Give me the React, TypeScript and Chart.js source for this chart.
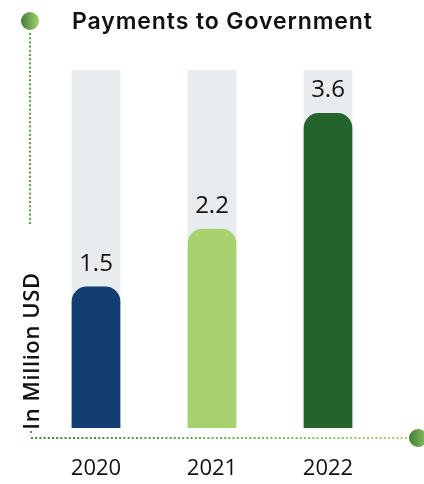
import React, { useEffect, useRef } from "react";
import { Chart, registerables } from "chart.js";

Chart.register(...registerables);

const categories = ["2020", "2021", "2022"];
const values = [1.5, 2.2, 3.6];
const trackValues = [4.12, 4.12, 4.12];
const barColors = ["#123d70", "#a5d26e", "#25632d"];
const titleText = "Payments to Government";
const yTitleText = "In Million USD";
const axisMin = -0.21;
const axisMax = 4.12;

const decorPlugin = {
  id: "decor",
  afterDraw(chart: any) {
    const ctx = chart.ctx as any;
    ctx.save();
    // title
    ctx.fillStyle = "#111111";
    ctx.font = "600 23px Inter, 'Open Sans', sans-serif";
    ctx.letterSpacing = "0px";
    ctx.textBaseline = "alphabetic";
    ctx.textAlign = "left";
    const w = ctx.measureText(titleText).width;
    const target = 300;
    const extra = (target - w) / (titleText.length - 1);
    ctx.letterSpacing = `${Math.max(-1, Math.min(1.5, extra)).toFixed(2)}px`;
    ctx.fillText(titleText, 72, 29);
    ctx.letterSpacing = "0px";

    // top-left circle
    let g = ctx.createLinearGradient(21, 0, 39, 0);
    g.addColorStop(0, "#3f7f37");
    g.addColorStop(1, "#a8d072");
    ctx.fillStyle = g;
    ctx.beginPath();
    ctx.arc(30, 21, 9, 0, Math.PI * 2);
    ctx.fill();

    // vertical dotted line
    ctx.fillStyle = "#5a9a4a";
    for (let y = 33; y <= 225; y += 4.2) {
      ctx.fillRect(29, y, 2, 2);
    }
    ctx.fillRect(30, 431, 2, 2);

    // horizontal dotted line
    g = ctx.createLinearGradient(30, 0, 410, 0);
    g.addColorStop(0, "#3f7f37");
    g.addColorStop(1, "#a8d072");
    ctx.fillStyle = g;
    for (let x = 31; x <= 408; x += 4.2) {
      ctx.fillRect(x, 437, 2, 2);
    }

    // bottom-right circle
    g = ctx.createLinearGradient(409, 0, 427, 0);
    g.addColorStop(0, "#3f7f37");
    g.addColorStop(1, "#8fc05f");
    ctx.fillStyle = g;
    ctx.beginPath();
    ctx.arc(418, 438, 9, 0, Math.PI * 2);
    ctx.fill();

    // y title
    ctx.translate(33, 351);
    ctx.rotate(-Math.PI / 2);
    ctx.fillStyle = "#111111";
    ctx.font = "600 22px 'Open Sans', sans-serif";
    ctx.letterSpacing = "0.6px";
    ctx.textAlign = "center";
    ctx.textBaseline = "middle";
    ctx.fillText(yTitleText, 0, 0);
    ctx.letterSpacing = "0px";
    ctx.restore();

    // value labels
    const meta = chart.getDatasetMeta(1);
    ctx.save();
    ctx.fillStyle = "#111111";
    ctx.font = "24px 'Open Sans', sans-serif";
    ctx.textAlign = "center";
    ctx.textBaseline = "alphabetic";
    meta.data.forEach((el: any, i: number) => {
      ctx.fillText(String(values[i]), el.x, el.y - 16);
    });
    ctx.restore();
  },
};

export default function App() {
  const ref = useRef<HTMLCanvasElement>(null);
  useEffect(() => {
    const chart = new Chart(ref.current!, {
      type: "bar",
      data: {
        labels: categories,
        datasets: [
          {
            label: "track",
            data: trackValues,
            backgroundColor: "#e9ecee",
            grouped: false,
            order: 2,
            base: axisMin,
            barPercentage: 0.42,
            categoryPercentage: 1,
          } as any,
          {
            label: "Payments",
            data: values,
            backgroundColor: barColors,
            grouped: false,
            order: 1,
            base: axisMin,
            barPercentage: 0.42,
            categoryPercentage: 1,
            borderRadius: { topLeft: 15, topRight: 15, bottomLeft: 0, bottomRight: 0 },
            borderSkipped: false,
          } as any,
        ],
      },
      options: {
        responsive: false,
        animation: false,
        layout: { padding: { left: 38, right: 38, top: 70, bottom: 0 } },
        plugins: { legend: { display: false }, tooltip: { enabled: false }, title: { display: false } },
        scales: {
          x: {
            grid: { display: false, drawTicks: false },
            border: { display: false },
            ticks: { color: "#111111", maxRotation: 0, font: { size: 22, family: "'Open Sans', sans-serif" }, padding: 28 },
            afterFit(scale: any) {
              scale.height = 56;
            },
          },
          y: { display: false, min: axisMin, max: axisMax },
        },
      },
      plugins: [decorPlugin],
    });
    return () => chart.destroy();
  }, []);
  return (
    <div style={{ position: "absolute", left: 0, top: 0, width: 424, height: 484, background: "#fff" }}>
      <canvas ref={ref} width={424} height={484} />
    </div>
  );
}
